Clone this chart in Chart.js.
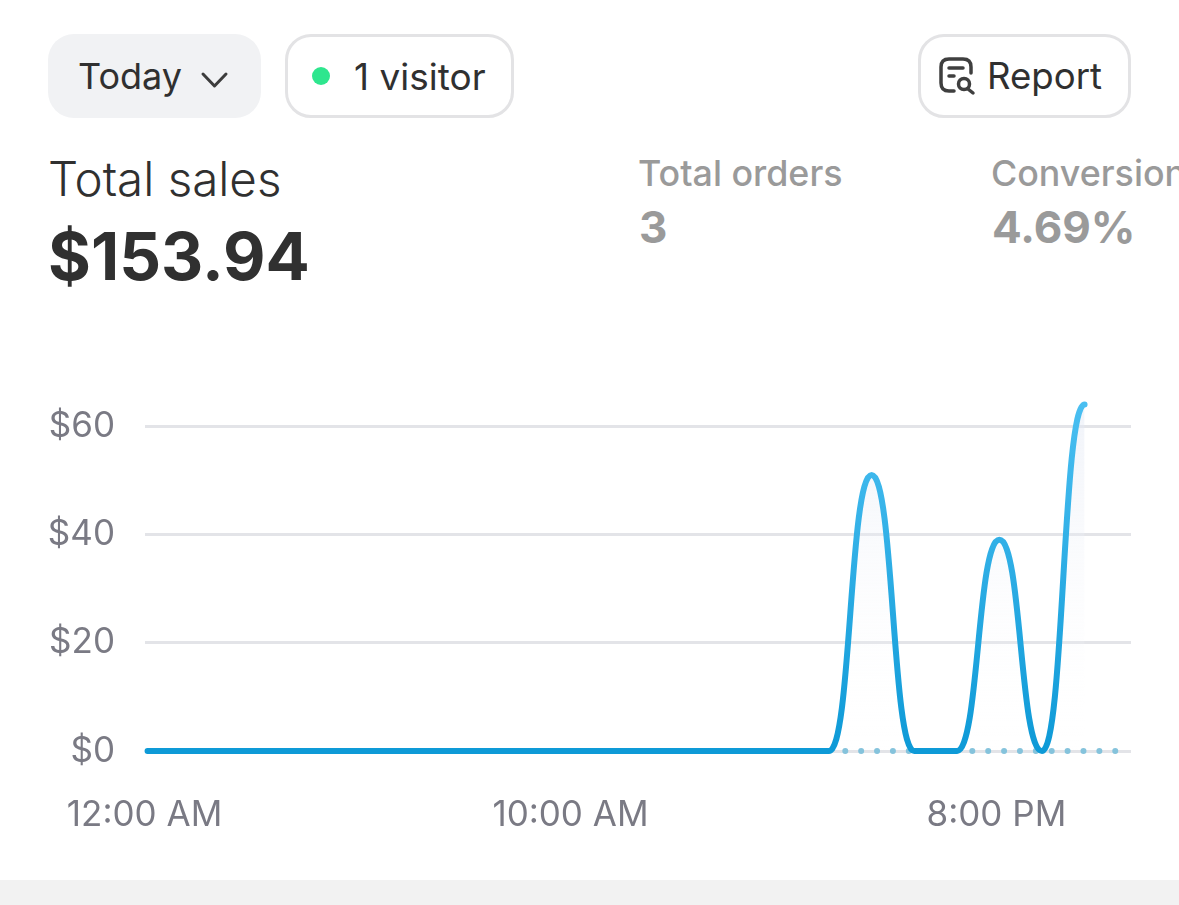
<!DOCTYPE html>
<html>
<head>
<meta charset="utf-8">
<title>Total sales</title>
<script src="https://cdn.jsdelivr.net/npm/chart.js@4/dist/chart.umd.min.js"></script>
<style>
  html, body { margin: 0; padding: 0; background: #fff; }
  body { width: 1179px; height: 905px; position: relative; overflow: hidden; font-family: Inter, sans-serif; color: #303030; }
  .abs { position: absolute; white-space: nowrap; line-height: 1; }
  .pill { position: absolute; box-sizing: border-box; top: 34px; height: 84px; border-radius: 26px; }
  .outline { border: 3px solid #e3e3e5; background: #fff; }
  .btn { font-size: 36px; top: 58px; }
  .muted { color: #9a9a9a; }
  #footer { position: absolute; left: 0; top: 880px; width: 1179px; height: 25px; background: #f2f2f2; }
  #wrap { position: absolute; left: 0; top: 340px; width: 1179px; height: 540px; }
</style>
</head>
<body>
<div class="pill" style="left:48px;width:213px;background:#f1f2f4"></div>
<div class="abs btn" style="left:78px">Today</div>
<svg class="abs" style="left:200px;top:71px" width="30" height="18" viewBox="0 0 30 18"><path d="M3 3 L14.5 15 L26 3" fill="none" stroke="#3c3c3c" stroke-width="3" stroke-linecap="round" stroke-linejoin="round"/></svg>

<div class="pill outline" style="left:285px;width:229px"></div>
<div class="abs" style="left:312px;top:67px;width:18px;height:18px;border-radius:50%;background:#2ee68e"></div>
<div class="abs btn" style="left:354px;font-size:37px">1 visitor</div>

<div class="pill outline" style="left:918px;width:213px"></div>
<svg class="abs" style="left:938px;top:56px" width="38" height="40" viewBox="0 0 38 40">
  <path d="M16 35 H11 Q3 35 3 27 V11 Q3 3 11 3 H25 Q33 3 33 11 V17" fill="none" stroke="#3f3f3f" stroke-width="3.5" stroke-linecap="round"/>
  <path d="M11 12 H25 M11 20 H16" fill="none" stroke="#3f3f3f" stroke-width="3.5" stroke-linecap="round"/>
  <circle cx="26" cy="28" r="5.5" fill="none" stroke="#3f3f3f" stroke-width="3.5"/>
  <path d="M30 33 L35 37" stroke="#3f3f3f" stroke-width="3.5" stroke-linecap="round"/>
</svg>
<div class="abs btn" style="left:987px;font-size:36.6px">Report</div>

<div class="abs" style="left:48px;top:155px;font-size:47.5px;font-weight:300">Total sales</div>
<div class="abs" style="left:48px;top:224px;font-size:65.5px;font-weight:700">$153.94</div>
<div class="abs muted" style="left:638px;top:156px;font-size:35.8px;font-weight:500">Total orders</div>
<div class="abs muted" style="left:639px;top:205px;font-size:44px;font-weight:700">3</div>
<div class="abs muted" style="left:991px;top:156px;font-size:35.8px;font-weight:500">Conversion</div>
<div class="abs muted" style="left:992px;top:205px;font-size:44px;font-weight:700">4.69%</div>

<div id="wrap"><canvas id="sales"></canvas></div>
<div id="footer"></div>

<script>
// hours of the day, one point per hour
const hours = [0,1,2,3,4,5,6,7,8,9,10,11,12,13,14,15,16,17,18,19,20,21,22,23];
const todaySales = [0,0,0,0,0,0,0,0,0,0,0,0,0,0,0,0,0,51,0,0,39,0,64];
const previousSales = [0,0,0,0,0,0,0,0,0,0,0,0,0,0,0,0,0,0,0,0,0,0,0,0];
const yTicks = [0,20,40,60];
const xTicks = [0,10,20];
const xTickLabels = ['12:00 AM','10:00 AM','8:00 PM'];

const tickFont = { family: 'Inter', size: 35 };
const tickColor = '#7a7a84';

function vertical(ctx, stops) {
  const area = ctx.chart.chartArea;
  if (!area) return stops[0];
  const g = ctx.chart.ctx.createLinearGradient(0, area.top, 0, area.bottom);
  stops.forEach((c, i) => g.addColorStop(i / (stops.length - 1), c));
  return g;
}

// flat tangents at every point with longer handles, the curve is rounder than plain monotone
const bumpCurve = {
  id: 'bumpCurve',
  afterDatasetsUpdate(chart) {
    const line = chart.getDatasetMeta(0).dataset;
    line.updateControlPoints(chart.chartArea, 'x');
    const pts = line.points;
    const dx = (pts[1].x - pts[0].x) * 0.52;
    pts.forEach(p => {
      p.cp1x = p.x - dx; p.cp1y = p.y;
      p.cp2x = p.x + dx; p.cp2y = p.y;
    });
  }
};

new Chart(document.getElementById('sales'), {
  type: 'line',
  plugins: [bumpCurve],
  data: {
    datasets: [
      {
        label: 'Today',
        data: todaySales.map((v, i) => ({ x: hours[i], y: v })),
        borderColor: ctx => vertical(ctx, ['#4cc0f2', '#0e9ad7']),
        backgroundColor: ctx => vertical(ctx, ['rgba(224,230,243,0.5)', 'rgba(255,255,255,0)']),
        borderWidth: 6,
        borderCapStyle: 'round',
        fill: 'origin',
        cubicInterpolationMode: 'monotone',
        pointRadius: 0,
        clip: false,
        order: 1
      },
      {
        label: 'Previous',
        data: previousSales.map((v, i) => ({ x: hours[i], y: v })),
        borderColor: '#85c3dc',
        borderWidth: 6,
        borderCapStyle: 'round',
        borderDash: [0, 15.88],
        borderDashOffset: 1,
        fill: false,
        pointRadius: 0,
        clip: false,
        order: 2
      }
    ]
  },
  options: {
    responsive: true,
    maintainAspectRatio: false,
    animation: false,
    layout: { autoPadding: false, padding: { top: 14, right: 48, left: 0, bottom: 0 } },
    plugins: {
      legend: { display: false },
      tooltip: { enabled: false },
      filler: { drawTime: 'beforeDatasetsDraw' }
    },
    scales: {
      x: {
        type: 'linear',
        min: -0.06,
        max: 23.09,
        grid: { display: false },
        border: { display: false },
        afterBuildTicks: axis => { axis.ticks = xTicks.map(v => ({ value: v })); },
        afterFit: axis => { axis.height = 129; },
        ticks: {
          color: tickColor,
          font: tickFont,
          padding: 35,
          labelOffset: -3,
          maxRotation: 0,
          autoSkip: false,
          callback: v => xTickLabels[xTicks.indexOf(v)]
        }
      },
      y: {
        min: 0,
        max: 66.5,
        grid: { color: '#e3e4e8', lineWidth: 3, drawTicks: false },
        border: { display: false },
        afterBuildTicks: axis => { axis.ticks = yTicks.map(v => ({ value: v })); },
        afterFit: axis => { axis.width = 145; },
        ticks: {
          color: tickColor,
          font: tickFont,
          padding: 30,
          callback: v => '$' + v
        }
      }
    }
  }
});
</script>
</body>
</html>
